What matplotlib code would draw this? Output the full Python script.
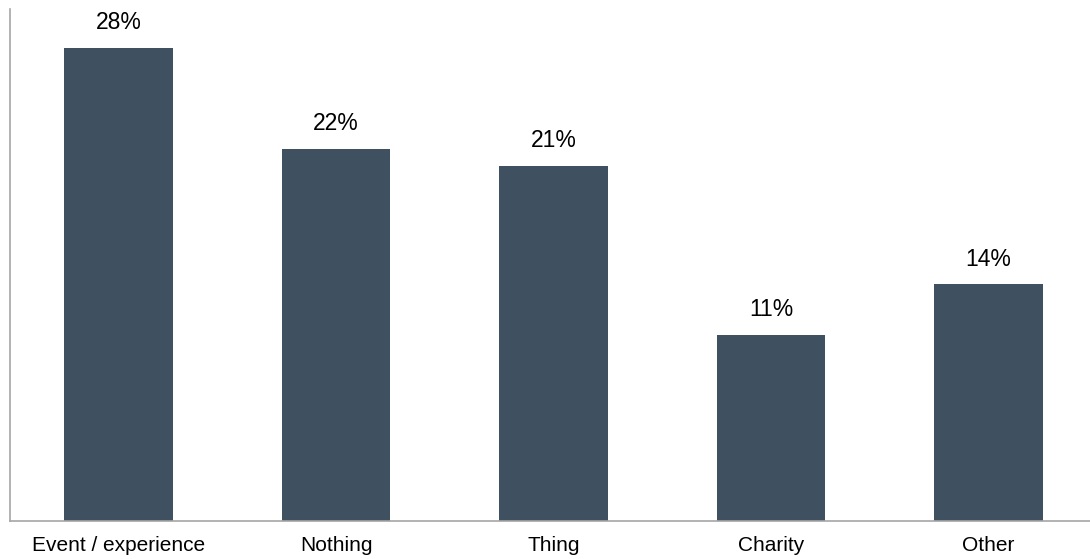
import matplotlib
matplotlib.use("Agg")
import matplotlib.pyplot as plt

categories = ["Event / experience", "Nothing", "Thing", "Charity", "Other"]
shares = [28, 22, 21, 11, 14]

plt.rcParams["font.family"] = ["Liberation Sans", "DejaVu Sans"]

fig = plt.figure(figsize=(10.9, 5.59), dpi=100)
ax = fig.add_axes([10 / 1090, 38 / 559, 1080 / 1090, 512 / 559])

x = range(len(categories))
bars = ax.bar(x, shares, width=0.5, color="#3f5060")
for b, v in zip(bars, shares):
    ax.annotate(f"{v}%", (b.get_x() + b.get_width() / 2, v), xytext=(0, 10),
                textcoords="offset points", ha="center", va="bottom", fontsize=16.5)

ax.set_xlim(-0.499, 4.467)
ax.set_ylim(0, 30.3)
ax.set_xticks(list(x))
ax.set_xticklabels(categories, fontsize=15)
ax.tick_params(axis="x", length=0, pad=11)
ax.set_yticks([])
for s in ("top", "right"):
    ax.spines[s].set_visible(False)
for s in ("left", "bottom"):
    ax.spines[s].set_color("#a6a6a6")
    ax.spines[s].set_linewidth(1.2)

fig.savefig("out.png", dpi=100)
